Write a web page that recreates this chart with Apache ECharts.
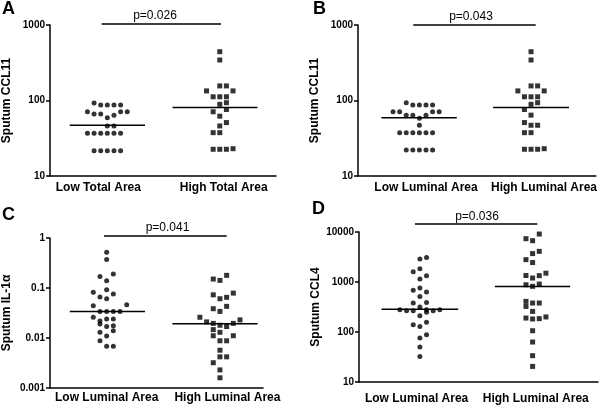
<!DOCTYPE html>
<html>
<head>
<meta charset="utf-8">
<script src="https://cdn.jsdelivr.net/npm/echarts@6/dist/echarts.min.js"></script>
<style>
html,body{margin:0;padding:0;background:#fff;}
#c{width:600px;height:407px;}
</style>
</head>
<body>
<div id="c"></div>
<script>
// ---- data ----
const catsTotal = ['Low Total Area', 'High Total Area'];
const catsLuminal = ['Low Luminal Area', 'High Luminal Area'];

const yTicksA = ['10', '100', '1000'];
const yTicksB = ['10', '100', '1000'];
const yTicksC = ['0.001', '0.01', '0.1', '1'];
const yTicksD = ['10', '100', '1000', '10000'];

const yTitleA = 'Sputum CCL11';
const yTitleB = 'Sputum CCL11';
const yTitleC = 'Sputum IL-1\u03b1';
const yTitleD = 'Sputum CCL4';

const pTextA = 'p=0.026';
const pTextB = 'p=0.043';
const pTextC = 'p=0.041';
const pTextD = 'p=0.036';

// [jitter slot, value]
const aLow = [[-2,93],[-1,87],[0,87],[1,87],[2,87],[-3,71],[-2,66],[-1,66],[0,59],[1,64],[2,71],[3,71],[0,46],[1,46],[-3,36.7],[-2,36.7],[-1,36.7],[0,36.7],[1,36.7],[2,36.7],[-2,21.6],[-1,21.6],[0,21.6],[1,21.6],[2,21.6]];
const aHigh = [[0,443],[0,344],[0,156],[1,156],[-2,134],[2,134],[-1,112],[0,112],[1,112],[1,93.5],[0,89],[-1,71],[1,76],[0,62],[1,51],[0,46],[-1,37.5],[0,37.5],[-1,22.6],[0,22.6],[1,22.6],[2,23]];
const bLow = [[-2,93.5],[-1,87],[0,87],[1,87],[2,87],[-4,71],[-3,71],[-2,64],[-1,64],[0,58],[1,64],[2,71],[3,71],[0,47],[-3,37.5],[-2,37.5],[-1,37.5],[0,37.5],[1,37.5],[2,37.5],[-2,22.1],[-1,22.1],[0,22.1],[1,22.1],[2,22.1]];
const bHigh = [[0,443],[0,344],[0,156],[1,156],[-2,134],[2,134],[-1,112],[0,112],[1,112],[1,93.5],[0,89],[-1,76],[0,64],[-1,51],[0,47],[1,47],[-1,37.5],[0,37.5],[-1,22.6],[0,22.6],[1,22.6],[2,23]];
const cLow = [[0,0.52],[0,0.37],[-1,0.17],[1,0.19],[0,0.14],[0,0.092],[-2,0.082],[1,0.076],[-1,0.066],[0,0.061],[-2,0.044],[3,0.046],[-1,0.034],[0,0.034],[1,0.034],[2,0.034],[-2,0.026],[-1,0.022],[0,0.024],[1,0.024],[-1,0.019],[0,0.017],[1,0.0175],[1,0.014],[-1,0.013],[0,0.011],[-1,0.0088],[0,0.0068],[1,0.0068]];
const cHigh = [[1,0.179],[-1,0.151],[0,0.142],[2,0.079],[-1,0.073],[0,0.061],[1,0.065],[1,0.043],[-1,0.0385],[0,0.034],[-3,0.026],[-2,0.021],[-1,0.0196],[0,0.018],[1,0.017],[2,0.0196],[3,0.023],[-1,0.0147],[0,0.013],[-1,0.0111],[2,0.0111],[0,0.0088],[1,0.0088],[0,0.0057],[0,0.0042],[1,0.0042],[-1,0.0032],[0,0.0023],[0,0.0016]];
const dLow = [[0,2900],[1,3100],[0,1850],[-1,1600],[1,1340],[0,1150],[-1,680],[0,760],[1,630],[0,515],[-1,380],[1,390],[-3,279],[-2,267],[-1,267],[0,316],[1,279],[2,267],[3,279],[1,247],[0,212],[-1,140],[0,129],[1,156],[1,88],[0,76],[0,50],[0,32.5]];
const dHigh = [[1,9100],[-1,7350],[0,6700],[1,4100],[0,3700],[-1,2800],[0,2450],[2,1500],[-1,1350],[1,1340],[0,1200],[-1,880],[0,820],[1,910],[-1,410],[-1,325],[0,380],[1,380],[0,258],[-1,190],[0,182],[1,185],[2,200],[0,106],[0,63],[0,33.6],[0,20.5]];

const mediansA = [47, 81];
const mediansB = [59, 81];
const mediansC = [0.034, 0.0193];
const mediansD = [285, 817];

// ---- layout / style ----
const FONT = '"Liberation Sans", Arial, Helvetica, sans-serif';
const STEP = 0.059;
const LW = 1.5;

const panels = [
  {grid:{left:50, top:25, width:226, height:151}, xr:[0.49,2.5], yr:[10,1000], ticks:yTicksA, title:yTitleA,
   cats:catsTotal, labPos:[0.92,2.035], labMargin:6, low:aLow, high:aHigh, med:mediansA,
   ext:[[-0.335,0.335],[-0.42,0.335]], letter:'A', lx:2, ly:9, p:pTextA, px:155, py:22, bar:[101.7,221,24]},
  {grid:{left:358, top:25, width:240, height:151}, xr:[0.45,2.58], yr:[10,1000], ticks:yTicksB, title:yTitleB,
   cats:catsLuminal, labPos:[1.059,2.116], labMargin:6, low:bLow, high:bHigh, med:mediansB,
   ext:[[-0.34,0.335],[-0.34,0.34]], letter:'B', lx:313, ly:9, p:pTextB, px:471, py:22.5, bar:[413.3,535.7,25]},
  {grid:{left:50, top:238, width:213, height:150}, xr:[0.5,2.38], yr:[0.001,1], ticks:yTicksC, title:yTitleC,
   cats:catsLuminal, labPos:[1.0,2.066], labMargin:4, low:cLow, high:cHigh, med:mediansC,
   ext:[[-0.325,0.338],[-0.42,0.333]], letter:'C', lx:2, ly:215, p:pTextC, px:167.5, py:233.5, bar:[104,226.7,236]},
  {grid:{left:359, top:232, width:239, height:150}, xr:[0.46,2.58], yr:[10,10000], ticks:yTicksD, title:yTitleD,
   cats:catsLuminal, labPos:[0.971,2.028], labMargin:11, low:dLow, high:dHigh, med:mediansD,
   ext:[[-0.34,0.34],[-0.335,0.333]], letter:'D', lx:312, ly:209, p:pTextD, px:477, py:223, bar:[415,537.3,224]}
];

const grids = [], xAxes = [], yAxes = [], series = [], graphics = [];

panels.forEach((p, i) => {
  grids.push(Object.assign({containLabel:false}, p.grid));
  const cats = p.cats;
  xAxes.push({
    type:'value', gridIndex:i, min:p.xr[0], max:p.xr[1],
    axisLine:{show:true, onZero:false, lineStyle:{color:'#000', width:LW}},
    axisTick:{show:false}, splitLine:{show:false},
    axisLabel:{customValues:p.labPos, formatter:(v)=> v < 1.5 ? cats[0] : cats[1],
      color:'#000', fontFamily:FONT, fontWeight:'bold', fontSize:12, margin:p.labMargin}
  });
  const minExp = Math.round(Math.log10(p.yr[0]));
  const ticks = p.ticks;
  yAxes.push({
    type:'log', logBase:10, gridIndex:i, min:p.yr[0], max:p.yr[1],
    name:p.title, nameLocation:'middle', nameGap:37,
    nameTextStyle:{color:'#000', fontFamily:FONT, fontWeight:'bold', fontSize:12},
    axisLine:{show:true, lineStyle:{color:'#000', width:LW}},
    axisTick:{show:true, length:4, lineStyle:{color:'#000', width:LW}},
    minorTick:{show:false}, splitLine:{show:false},
    axisLabel:{formatter:(v)=> ticks[Math.round(Math.log10(v)) - minExp],
      color:'#000', fontFamily:FONT, fontWeight:'bold', fontSize:10, margin:5}
  });
  series.push({
    type:'scatter', xAxisIndex:i, yAxisIndex:i, symbol:'circle', symbolSize:5,
    itemStyle:{color:'#000'}, silent:true,
    data:p.low.map(([s,v]) => [1 + s*STEP, v])
  });
  series.push({
    type:'scatter', xAxisIndex:i, yAxisIndex:i, symbol:'rect', symbolSize:5,
    itemStyle:{color:'#000'}, silent:true,
    data:p.high.map(([s,v]) => [2 + s*STEP, v])
  });
  [0,1].forEach(k => {
    series.push({
      type:'line', xAxisIndex:i, yAxisIndex:i, showSymbol:false, silent:true,
      lineStyle:{color:'#000', width:LW}, z:1,
      data:[[1 + k + p.ext[k][0], p.med[k]], [1 + k + p.ext[k][1], p.med[k]]]
    });
  });
  graphics.push({type:'text', left:p.lx, top:p.ly - 9,
    style:{text:p.letter, fill:'#000', font:'bold 18px ' + FONT}});
  graphics.push({type:'text', x:p.px, y:p.py,
    style:{text:p.p, fill:'#000', font:'12px ' + FONT, textAlign:'center', textVerticalAlign:'bottom'}});
  graphics.push({type:'line', shape:{x1:p.bar[0], y1:p.bar[2], x2:p.bar[1], y2:p.bar[2]},
    style:{stroke:'#000', lineWidth:LW}});
});

const chart = echarts.init(document.getElementById('c'), null, {renderer:'canvas'});
chart.setOption({
  animation:false,
  backgroundColor:'#fff',
  grid:grids, xAxis:xAxes, yAxis:yAxes, series:series, graphic:graphics
});
</script>
</body>
</html>
